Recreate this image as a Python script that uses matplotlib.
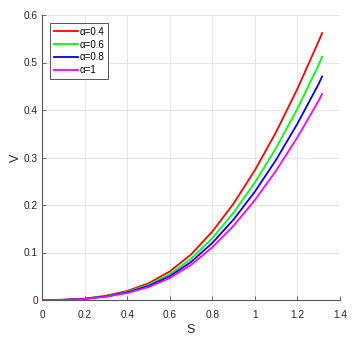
import matplotlib
matplotlib.use("Agg")
import matplotlib.pyplot as plt

plt.rcParams['font.family'] = ['Liberation Sans', 'DejaVu Sans']

S = [0, 0.1, 0.2, 0.3, 0.4, 0.5, 0.6, 0.7, 0.8, 0.9, 1.0, 1.1, 1.2, 1.3, 1.316]
V_a04 = [0, 0.0004, 0.0029, 0.0089, 0.0190, 0.0350, 0.0600, 0.0957, 0.1438, 0.2029, 0.2730, 0.3536, 0.4445, 0.5450, 0.5620]
V_a06 = [0, 0.0004, 0.0026, 0.0081, 0.0172, 0.0317, 0.0543, 0.0866, 0.1301, 0.1836, 0.2471, 0.3200, 0.4023, 0.4950, 0.5120]
V_a08 = [0, 0.0003, 0.0024, 0.0074, 0.0159, 0.0292, 0.0501, 0.0799, 0.1201, 0.1694, 0.2280, 0.2953, 0.3712, 0.4551, 0.4705]
V_a1 = [0, 0.0003, 0.0022, 0.0069, 0.0146, 0.0270, 0.0462, 0.0737, 0.1107, 0.1562, 0.2102, 0.2723, 0.3423, 0.4197, 0.4340]

labels = ['α=0.4', 'α=0.6', 'α=0.8', 'α=1']
colors = ['#ff0000', '#00ff00', '#0000ff', '#ff00ff']
series = [V_a04, V_a06, V_a08, V_a1]

fig = plt.figure(figsize=(3.61, 3.37), dpi=100)
ax = fig.add_axes([42/361, 1-300/337, 298/361, 285/337])

for v, c, l in zip(series, colors, labels):
    ax.plot(S, v, color=c, lw=1.3, label=l)

ax.set_xlim(0, 1.4)
ax.set_ylim(0, 0.6)
ax.set_xticks([0, 0.2, 0.4, 0.6, 0.8, 1, 1.2, 1.4])
ax.set_xticklabels(['0', '0.2', '0.4', '0.6', '0.8', '1', '1.2', '1.4'])
ax.set_yticks([0, 0.1, 0.2, 0.3, 0.4, 0.5, 0.6])
ax.set_yticklabels(['0', '0.1', '0.2', '0.3', '0.4', '0.5', '0.6'])
ax.grid(True, color='#e6e6e6', lw=0.7)
ax.set_axisbelow(True)
ax.spines['top'].set_visible(False)
ax.spines['right'].set_visible(False)
for sp in ('left', 'bottom'):
    ax.spines[sp].set_color('#555555')
    ax.spines[sp].set_linewidth(0.8)
ax.tick_params(direction='in', length=3, width=0.6, colors='#555555', labelsize=7.3, labelcolor='#262626')
ax.tick_params(axis='x', pad=7)
ax.tick_params(axis='y', pad=3)
ax.set_xlabel('S', fontsize=9, color='#262626', labelpad=3)
ax.set_ylabel('V', fontsize=9, color='#262626', labelpad=1.5)

leg = ax.legend(loc='upper left', fontsize=7, handlelength=2.5, handletextpad=0.15,
                borderpad=0.4, labelspacing=0.3, fancybox=False, framealpha=1,
                edgecolor='#555555', borderaxespad=0.8)
leg.get_frame().set_linewidth(0.7)

fig.savefig('out.png', dpi=100)
